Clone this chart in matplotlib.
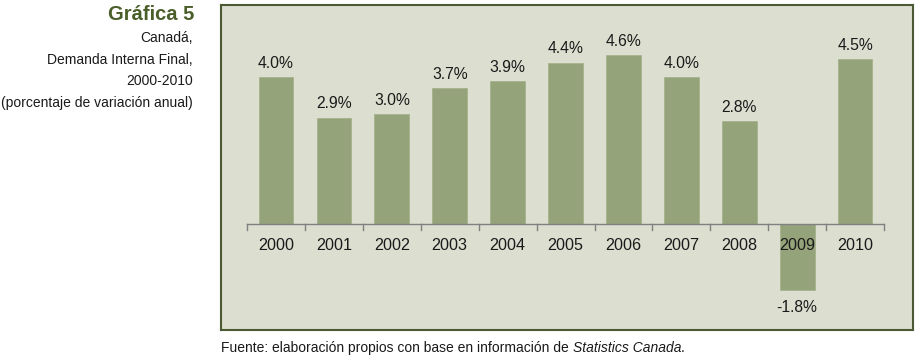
import numpy as np
import matplotlib
matplotlib.use('Agg')
import matplotlib.pyplot as plt

plt.rcParams['font.family'] = ['Liberation Sans', 'DejaVu Sans']

# Data
years = ['2000', '2001', '2002', '2003', '2004', '2005',
         '2006', '2007', '2008', '2009', '2010']
growth = [4.0, 2.9, 3.0, 3.7, 3.9, 4.4, 4.6, 4.0, 2.8, -1.8, 4.5]

# Colors
BAR_COLOR = '#95a37a'
PANEL_BG = '#dcdfd0'
BORDER = '#4b5a33'
TITLE_COLOR = '#4a5e2a'
AXIS_GRAY = '#808080'

W, H = 917, 360
fig = plt.figure(figsize=(W / 100, H / 100), dpi=100)

# panel box in pixels: x 221-913, y 5-330
ax = fig.add_axes([221 / W, 1 - 330 / H, (913 - 221) / W, (330 - 5) / H])
ax.set_facecolor(PANEL_BG)
for s in ax.spines.values():
    s.set_color(BORDER)
    s.set_linewidth(1.5)

x = np.arange(len(years))
ax.bar(x, growth, width=0.6, color=BAR_COLOR, edgecolor='#a6b28c', linewidth=0.6, zorder=2)

# value labels
for xi, v in zip(x, growth):
    if v >= 0:
        ax.annotate(f'{v:.1f}%', (xi, v), xytext=(0, 4.5), textcoords='offset points',
                    ha='center', va='bottom', fontsize=11.3, color='#1a1a1a')
    else:
        ax.annotate(f'{v:.1f}%', (xi, v), xytext=(0, -7), textcoords='offset points',
                    ha='center', va='top', fontsize=11.3, color='#1a1a1a')

# baseline and tick marks
ax.plot([-0.5, len(years) - 0.5], [0, 0], color=AXIS_GRAY, lw=1.0, zorder=3)
for b in np.arange(-0.5, len(years), 1.0):
    ax.plot([b, b], [0, -0.16], color=AXIS_GRAY, lw=1.0, zorder=3)

# year labels
for xi, yr in zip(x, years):
    ax.text(xi, -0.58, yr, ha='center', va='center', fontsize=11.6, color='#1a1a1a', zorder=4)

ax.set_xlim(-0.95, 11.0)
ax.set_ylim(-2.89, 5.97)
ax.set_xticks([])
ax.set_yticks([])

# Title block on the left
fig.text(194 / W, 1 - 15 / H, 'Gráfica 5', ha='right', va='center',
         fontsize=14.5, fontweight='bold', color=TITLE_COLOR)
sub_lines = ['Canadá,', 'Demanda Interna Final,', '2000-2010',
             '(porcentaje de variación anual)']
sub_y = [38, 60, 81, 103]
for txt, yy in zip(sub_lines, sub_y):
    fig.text(193 / W, 1 - yy / H, txt, ha='right', va='center',
             fontsize=10, color='#1a1a1a')

# Source
t1 = fig.text(221 / W, 1 - 348 / H,
              'Fuente: elaboración propios con base en información de ',
              ha='left', va='center', fontsize=10, color='#1a1a1a')
fig.canvas.draw()
bb = t1.get_window_extent()
t2 = fig.text(bb.x1 / W, 1 - 348 / H, 'Statistics Canada', ha='left', va='center',
              fontsize=10, style='italic', color='#1a1a1a')
fig.canvas.draw()
e2 = t2.get_window_extent()
fig.text(e2.x1 / W, 1 - 348 / H, '.', ha='left', va='center',
         fontsize=10, color='#1a1a1a')

fig.savefig('out.png', dpi=100, facecolor='white')
